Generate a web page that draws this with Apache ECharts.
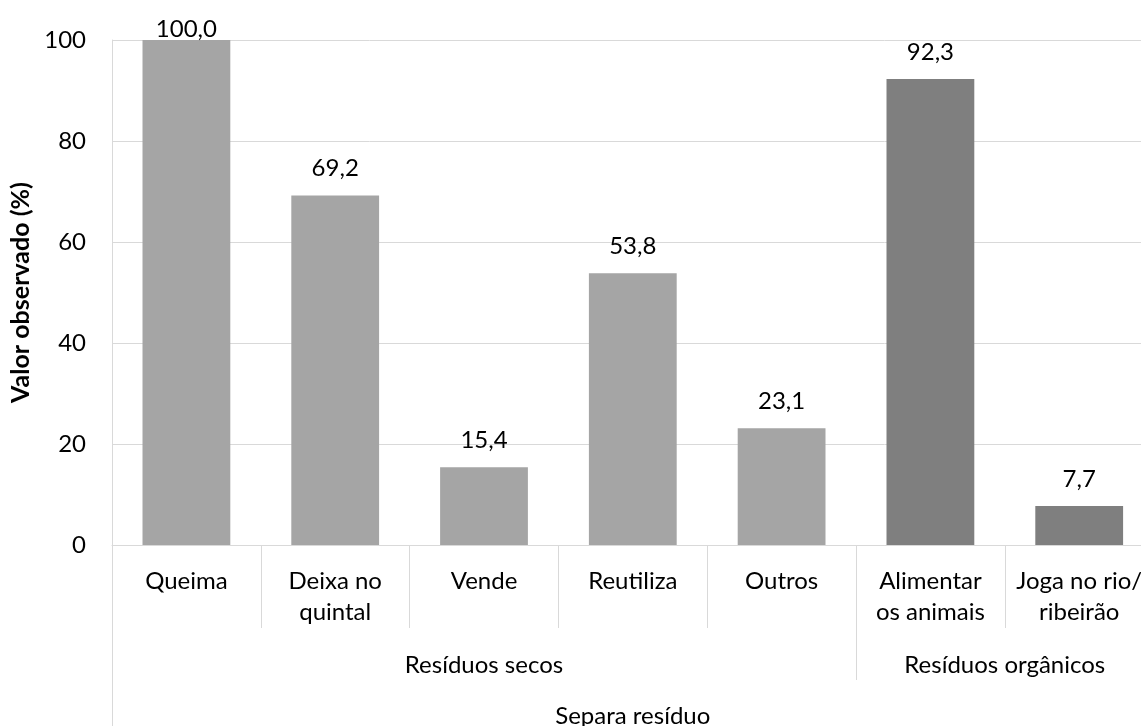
<!DOCTYPE html>
<html>
<head>
<meta charset="utf-8">
<script src="https://cdn.jsdelivr.net/npm/echarts@6/dist/echarts.min.js"></script>
<style>html,body{margin:0;padding:0;background:#fff;}#c{width:1141px;height:726px;}</style>
</head>
<body>
<div id="c"></div>
<script>
const categories = ['Queima', 'Deixa no\nquintal', 'Vende', 'Reutiliza', 'Outros', 'Alimentar\nos animais', 'Joga no rio/\nribeirão'];
const values = [100.0, 69.2, 15.4, 53.8, 23.1, 92.3, 7.7];
const groupOfCategory = ['secos', 'secos', 'secos', 'secos', 'secos', 'organicos', 'organicos'];
const groupLabelsSecos = ['', '', 'Resíduos secos', '', '', '', ''];
const groupLabelsOrganicos = ['', '', '', '', '', '', 'Resíduos orgânicos', ''];
const topLabels = ['', '', '', 'Separa resíduo', '', '', ''];
const yTicks = [0, 20, 40, 60, 80, 100];
const yAxisTitle = 'Valor observado (%)';

const FONT = 'Lato';
const groupColors = { secos: '#A5A5A5', organicos: '#7F7F7F' };
const chart = echarts.init(document.getElementById('c'), null, { renderer: 'canvas' });
const gridLine = '#D9D9D9';

const hiddenLine = { show: false };
option = {
  animation: false,
  backgroundColor: '#ffffff',
  grid: { left: 112, top: 40, width: 1041.6, height: 505, containLabel: false, outerBoundsMode: 'none' },
  xAxis: [
    {
      type: 'category', data: categories, position: 'bottom', boundaryGap: true,
      axisLine: { show: true, lineStyle: { color: gridLine, width: 1 } },
      axisTick: { show: true, interval: 0, length: 83, lineStyle: { color: gridLine } },
      axisLabel: { interval: 0, margin: 21, fontFamily: FONT, fontSize: 24, lineHeight: 31, color: '#000' }
    },
    {
      type: 'category', data: groupLabelsSecos, position: 'bottom', boundaryGap: true,
      axisLine: hiddenLine, axisTick: { show: false },
      axisLabel: { interval: 0, margin: 105, fontFamily: FONT, fontSize: 24, lineHeight: 31, color: '#000' }
    },
    {
      type: 'category', data: groupLabelsOrganicos, position: 'bottom', boundaryGap: false,
      axisLine: hiddenLine,
      axisTick: { show: true, interval: function (i) { return i === 0 || i === 5; }, length: 135, lineStyle: { color: gridLine } },
      axisLabel: { interval: 0, margin: 105, fontFamily: FONT, fontSize: 24, lineHeight: 31, color: '#000' }
    },
    {
      type: 'category', data: topLabels, position: 'bottom', boundaryGap: true,
      axisLine: hiddenLine,
      axisTick: { show: true, interval: function (i) { return i === 0; }, length: 200, lineStyle: { color: gridLine } },
      axisLabel: { interval: 0, margin: 156, fontFamily: FONT, fontSize: 24, lineHeight: 31, color: '#000' }
    }
  ],
  yAxis: {
    type: 'value', min: yTicks[0], max: yTicks[yTicks.length - 1], interval: yTicks[1] - yTicks[0],
    name: yAxisTitle, nameLocation: 'middle', nameGap: 67,
    nameTextStyle: { fontFamily: FONT, fontSize: 25, fontWeight: 'bold', color: '#000' },
    axisLine: { show: true, lineStyle: { color: gridLine } },
    axisTick: { show: false },
    splitLine: { show: true, lineStyle: { color: gridLine, width: 1 } },
    axisLabel: { margin: 26, fontFamily: FONT, fontSize: 24, color: '#000' }
  },
  series: [{
    type: 'bar',
    xAxisIndex: 0,
    barWidth: '59%',
    data: values.map(function (v, i) {
      const item = { value: v, itemStyle: { color: groupColors[groupOfCategory[i]] } };
      if (v >= 100) item.label = { distance: -1 };
      return item;
    }),
    label: {
      show: true, position: 'top', distance: 15,
      fontFamily: FONT, fontSize: 24, color: '#000',
      formatter: function (p) { return p.value.toFixed(1).replace('.', ','); }
    }
  }]
};
chart.setOption(option);
</script>
</body>
</html>
